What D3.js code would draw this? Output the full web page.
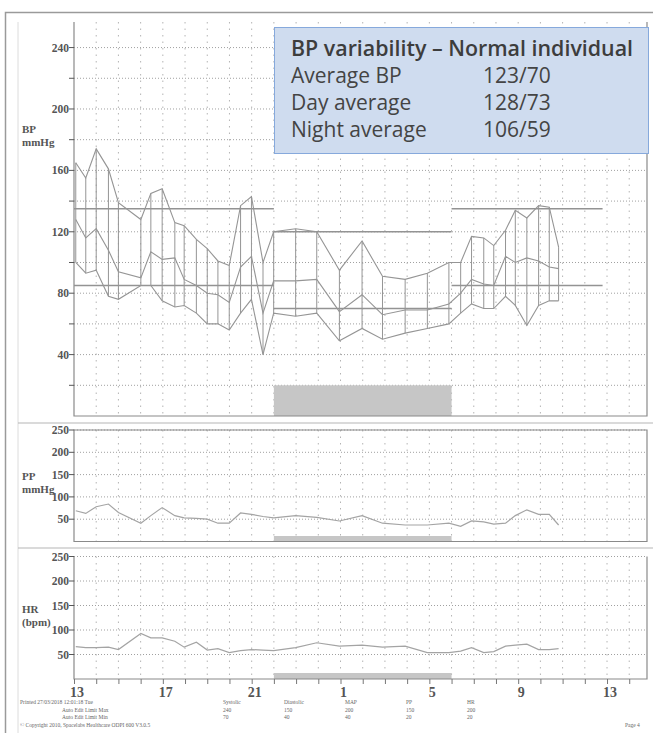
<!DOCTYPE html>
<html>
<head>
<meta charset="utf-8">
<script src="https://cdn.jsdelivr.net/npm/d3@7"></script>
<style>
  body { margin: 0; background: #fff; }
  svg text { font-family: "Liberation Serif", "DejaVu Serif", serif; }
  .box text { font-family: "Open Sans", Lato, sans-serif; }
</style>
</head>
<body>
<svg id="chart" width="653" height="733"></svg>
<script>
"use strict";

// ABPM report, readings as decimal clock hours (24+ = after midnight)
const readingHours = [13.08, 13.53, 14.0, 14.55, 15.0, 16.01, 16.46, 16.97, 17.54, 17.96,
  18.51, 19.0, 19.48, 19.99, 20.5, 20.99, 21.51, 21.99, 22.98, 23.93,
  24.95, 25.97, 26.89, 27.91, 28.91, 29.88, 30.41, 30.9, 31.45, 31.9,
  32.43, 32.87, 33.39, 33.92, 34.4, 34.82];

const systolic = [165, 155, 174, 161, 139, 128, 145, 148, 126, 124,
  115, 109, 101, 98, 137, 143, 100, 120, 122, 120,
  95, 114, 91, 89, 93, 100, 100, 117, 116, 111,
  121, 134, 129, 137, 136, 110];
const meanPressure = [128, 116, 122, 108, 94, 90, 107, 102, 103, 89,
  85, 80, 79, 74, 97, 104, 67, 88, 88, 89,
  68, 79, 66, 69, 69, 73, 80, 89, 86, 85,
  104, 100, 103, 101, 97, 96];
const diastolic = [100, 93, 95, 78, 76, 85, 85, 75, 71, 72,
  67, 60, 60, 56, 67, 76, 40, 67, 65, 67,
  49, 57, 50, 54, 57, 60, 67, 73, 70, 70,
  78, 72, 59, 72, 75, 75];
const pulsePressure = [69, 63, 78, 84, 65, 41, 58, 76, 58, 53,
  52, 50, 41, 41, 64, 61, 56, 53, 58, 54,
  46, 58, 41, 37, 37, 41, 34, 46, 44, 39,
  41, 58, 71, 61, 61, 37];
const heartRate = [66, 64, 64, 65, 60, 93, 84, 84, 77, 65,
  75, 59, 62, 54, 58, 60, 59, 58, 64, 74,
  67, 69, 65, 67, 54, 54, 57, 64, 54, 56,
  67, 69, 71, 60, 60, 62];

// limit lines: [start hour, end hour, systolic, diastolic]
const limitPeriods = [[13, 22, 135, 85], [22, 30, 120, 70], [30, 36.8, 135, 85]];
const nightPeriod = [22, 30];
const hourTicks = [13, 17, 21, 25, 29, 33, 37];

const summaryTitle = "BP variability – Normal individual";
const summaryLabels = ["Average BP", "Day average", "Night average"];
const summaryValues = ["123/70", "128/73", "106/59"];

const footerCols = ["Systolic", "Diastolic", "MAP", "PP", "HR"];
const footerMax = ["240", "150", "200", "150", "200"];
const footerMin = ["70", "40", "40", "20", "20"];

const svg = d3.select("#chart");
const ink = "#959595";

let x = d3.scaleLinear().domain([13, 38.8]).range([74, 647]);

// outer frame + page edge
svg.append("path").attr("d", "M5.5,733 V12.5 H653")
  .attr("fill", "none").attr("stroke", "#9a9a9a").attr("stroke-width", 1.5);
svg.append("line").attr("x1", 18).attr("x2", 18).attr("y1", 22).attr("y2", 733)
  .attr("stroke", "#dcdcdc");

function drawPanel(cfg) {
  let y = cfg.y;
  let g = svg.append("g");
  let [top, bottom] = [y.range()[1], y.range()[0]];

  // dotted grid
  g.selectAll(".hg").data(cfg.grid).join("line")
    .attr("x1", x(13)).attr("x2", 647)
    .attr("y1", d => y(d)).attr("y2", d => y(d))
    .attr("stroke", "#a0a0a0").attr("stroke-dasharray", "1,2");
  g.selectAll(".vg").data(d3.range(14, 39)).join("line")
    .attr("x1", d => x(d)).attr("x2", d => x(d))
    .attr("y1", cfg.gridTop).attr("y2", bottom)
    .attr("stroke", "#b4b4b4").attr("stroke-dasharray", "1.5,5");

  // night bar
  g.append("rect")
    .attr("x", x(nightPeriod[0])).attr("width", x(nightPeriod[1]) - x(nightPeriod[0]))
    .attr("y", cfg.nightY).attr("height", bottom - cfg.nightY)
    .attr("fill", "#c6c6c6");

  // frame
  g.append("path")
    .attr("d", cfg.closed
      ? `M${x(13)},${top} V${bottom} H647 V${top} Z`
      : `M${x(13)},${cfg.gridTop} V${bottom} H647 V${cfg.gridTop}`)
    .attr("fill", "none").attr("stroke", "#8a8a8a").attr("stroke-width", 1.2);

  // y axis ticks + labels
  g.selectAll(".yt").data(cfg.grid).join("line")
    .attr("x1", x(13) - 5).attr("x2", x(13))
    .attr("y1", d => y(d)).attr("y2", d => y(d))
    .attr("stroke", "#555");
  g.selectAll(".yl").data(cfg.labels).join("text")
    .attr("x", x(13) - 5).attr("y", d => y(d) + 4)
    .attr("text-anchor", "end").attr("font-size", 11.5).attr("font-weight", "bold")
    .attr("fill", "#555").text(d => d);

  // axis title
  g.selectAll(".tt").data(cfg.title).join("text")
    .attr("x", 22).attr("y", (d, i) => cfg.titleY + i * 13)
    .attr("font-size", 11).attr("font-weight", "bold").attr("fill", "#555")
    .text(d => d);
  return g;
}

// ---- BP panel
let yBP = d3.scaleLinear().domain([0, 256]).range([416, 23]);
let bp = drawPanel({
  y: yBP, grid: d3.range(20, 241, 20), labels: d3.range(40, 241, 40),
  gridTop: 22, nightY: yBP(20), closed: false,
  title: ["BP", "mmHg"], titleY: 133
});

bp.selectAll(".lim").data(limitPeriods).join("g").each(function (d) {
  let sel = d3.select(this);
  [d[2], d[3]].forEach(v => {
    sel.append("line").attr("x1", x(d[0])).attr("x2", x(d[1]))
      .attr("y1", yBP(v)).attr("y2", yBP(v))
      .attr("stroke", "#939393").attr("stroke-width", 1.4);
  });
});

bp.selectAll(".rng").data(readingHours).join("line")
  .attr("x1", d => x(d)).attr("x2", d => x(d))
  .attr("y1", (d, i) => yBP(systolic[i])).attr("y2", (d, i) => yBP(diastolic[i]))
  .attr("stroke", ink).attr("stroke-width", 1);

[systolic, meanPressure, diastolic].forEach(series => {
  bp.append("path")
    .datum(series)
    .attr("fill", "none").attr("stroke", ink).attr("stroke-width", 1.1)
    .attr("d", d3.line().x((d, i) => x(readingHours[i])).y(d => yBP(d)));
});

// ---- PP panel
let yPP = d3.scaleLinear().domain([0, 250]).range([541.5, 430]);
let pp = drawPanel({
  y: yPP, grid: d3.range(50, 251, 50), labels: d3.range(50, 251, 50),
  gridTop: 430, nightY: 536, closed: true,
  title: ["PP", "mmHg"], titleY: 480
});
pp.append("path").datum(pulsePressure)
  .attr("fill", "none").attr("stroke", "#a4a4a4").attr("stroke-width", 1.2)
  .attr("d", d3.line().x((d, i) => x(readingHours[i])).y(d => yPP(d)));

// ---- HR panel
let yHR = d3.scaleLinear().domain([0, 250]).range([679, 556.5]);
let hr = drawPanel({
  y: yHR, grid: d3.range(50, 251, 50), labels: d3.range(50, 251, 50),
  gridTop: 556.5, nightY: 673, closed: false,
  title: ["HR", "(bpm)"], titleY: 613
});
hr.append("path").datum(heartRate)
  .attr("fill", "none").attr("stroke", "#a4a4a4").attr("stroke-width", 1.2)
  .attr("d", d3.line().x((d, i) => x(readingHours[i])).y(d => yHR(d)));

// x axis under HR
let xAxis = svg.append("g").attr("transform", "translate(0,679)")
  .call(d3.axisBottom(x).tickValues(d3.range(13, 39)).tickSize(5).tickFormat(""));
xAxis.select(".domain").remove();
xAxis.selectAll(".tick line").attr("stroke", "#777");
svg.selectAll(".xl").data(hourTicks).join("text")
  .attr("x", d => x(d) + 3).attr("y", 697)
  .attr("text-anchor", "middle").attr("font-size", 14).attr("font-weight", "bold")
  .attr("fill", "#555").text(d => d % 24);

// panel separators
[423, 548].forEach(v => {
  svg.append("line").attr("x1", 18).attr("x2", 653).attr("y1", v).attr("y2", v)
    .attr("stroke", "#b5b5b5").attr("stroke-width", 1.2);
});

// footer print text
let foot = svg.append("g").attr("font-size", 5.5);
function footText(tx, ty, s) {
  foot.append("text").attr("x", tx).attr("y", ty).attr("fill", "#666").text(s);
}
footText(20, 704, "Printed 27/03/2018 12:01:18 Tue");
footText(62, 712, "Auto Edit Limit Max");
footText(62, 719, "Auto Edit Limit Min");
footText(20, 727, "© Copyright 2010, Spacelabs Healthcare ODPI 600 V3.0.5");
footText(625, 727, "Page 4");
let colX = d3.scalePoint().domain(footerCols).range([223, 467]);
footerCols.forEach((c, i) => {
  footText(colX(c), 704, c);
  footText(colX(c), 712, footerMax[i]);
  footText(colX(c), 719, footerMin[i]);
});

// summary box
let box = svg.append("g").attr("class", "box");
box.append("rect").attr("x", 274.5).attr("y", 27.5).attr("width", 374).attr("height", 126)
  .attr("fill", "#cfdcef").attr("stroke", "#86a9dc").attr("stroke-width", 1);
box.append("text").attr("x", 291).attr("y", 56)
  .attr("font-size", 21.4).attr("font-weight", 600).attr("fill", "#3d3d3d")
  .text(summaryTitle);
summaryLabels.forEach((lab, i) => {
  box.append("text").attr("x", 291).attr("y", 83 + i * 27)
    .attr("font-size", 21).attr("fill", "#444").text(lab);
  box.append("text").attr("x", 483).attr("y", 83 + i * 27)
    .attr("font-size", 21).attr("fill", "#444").text(summaryValues[i]);
});
</script>
</body>
</html>
